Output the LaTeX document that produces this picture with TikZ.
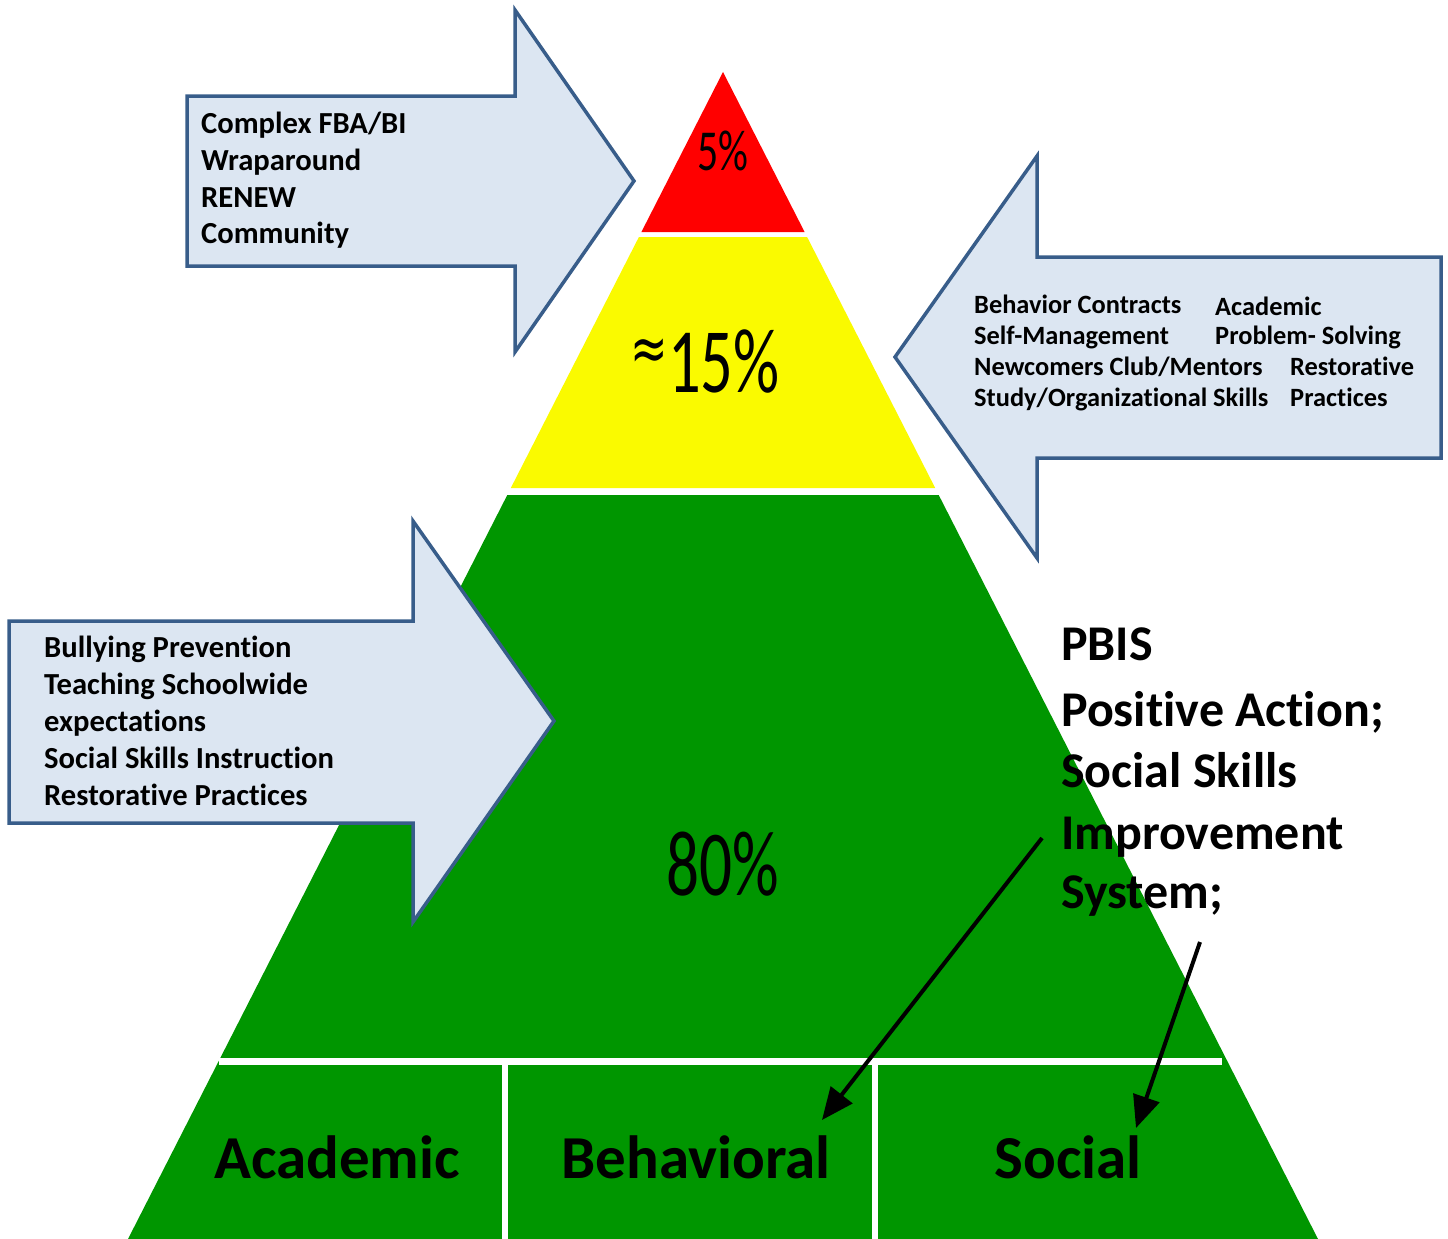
\documentclass[tikz,border=0pt]{standalone}
\usepackage{fontspec}
\setmainfont{Carlito}[Ligatures={NoCommon}]
\newfontfamily\symfont{DejaVu Sans}
\usepackage{graphicx}
\usetikzlibrary{arrows.meta}
\definecolor{tipred}{RGB}{255,0,0}
\definecolor{midyellow}{RGB}{250,250,0}
\definecolor{basegreen}{RGB}{0,150,0}
\definecolor{boxfill}{RGB}{220,230,242}
\definecolor{boxline}{RGB}{56,93,138}
\tikzset{
    blockarrow/.style={draw=boxline, fill=boxfill, line width=3.5pt},
    listtext/.style={font=\bfseries\fontsize{30.6}{37}\selectfont, anchor=base west, inner sep=0pt},
    listtextsm/.style={font=\bfseries\fontsize{26.4}{31}\selectfont, anchor=base west, inner sep=0pt},
    pbistext/.style={font=\bfseries\fontsize{50}{62}\selectfont, anchor=base west, inner sep=0pt},
    areatext/.style={font=\bfseries\fontsize{61}{61}\selectfont, anchor=base, inner sep=0pt},
    percent/.style={anchor=base, inner sep=0pt},
    pointer/.style={line width=4pt, -{Triangle[length=32pt,width=27pt]}},
}

\begin{document}
\begin{tikzpicture}[x=1pt, y=-1pt]
    \useasboundingbox (0,0) rectangle (1448,1239);
    % pyramid
    \fill[tipred] (723,72) -- (804.6,232) -- (641.4,232) -- cycle;
    \fill[midyellow] (638.9,237) -- (807.1,237) -- (935.2,488) -- (510.8,488) -- cycle;
    \fill[basegreen] (507.3,495) -- (938.7,495) -- (1318,1239) -- (128,1239) -- cycle;
    \draw[white, line width=7pt] (219,1061) -- (1222,1061);
    \draw[white, line width=6pt] (505,1061) -- (505,1239) (875,1061) -- (875,1239);
    \node[percent] (tier3) at (723,170) {\scalebox{0.72}[1]{\fontsize{58}{58}\selectfont 5\%}};
    \node[percent] (tier2) at (705,392) {\scalebox{0.7}[1]{\raisebox{22pt}{\symfont\fontsize{64}{64}\selectfont ≈}\fontsize{92}{92}\selectfont 15\%}};
    \node[percent] (tier1) at (723,895) {\scalebox{0.7}[1]{\fontsize{93}{93}\selectfont 80\%}};
    \node[areatext] (academic) at (337,1178) {Academic};
    \node[areatext] (behavioral) at (696,1178) {Behavioral};
    \node[areatext] (social) at (1068,1178) {Social};

    % block arrows
    \draw[blockarrow] (187,96) -- (515,96) -- (515,10) -- (634,181) -- (515,352) -- (515,266) -- (187,266) -- cycle;
    \draw[blockarrow] (1441,257) -- (1037,257) -- (1037,156) -- (895,357) -- (1037,558) -- (1037,458) -- (1441,458) -- cycle;
    \draw[blockarrow] (9,621) -- (413,621) -- (413,521) -- (554,721) -- (413,922) -- (413,823) -- (9,823) -- cycle;

    \node[listtext] (fba) at (201,133) {Complex FBA/BI};
    \node[listtext] (wrap) at (201,170) {Wraparound};
    \node[listtext] (renew) at (201,207) {RENEW};
    \node[listtext] (community) at (201,243) {Community};

    \node[listtextsm] (contracts) at (974,313) {Behavior Contracts};
    \node[listtextsm] (selfman) at (974,344) {Self-Management};
    \node[listtextsm] (newcomers) at (974,375) {Newcomers Club/Mentors};
    \node[listtextsm] (study) at (974,406) {Study/Organizational Skills};
    \node[listtextsm] (acad) at (1215,315) {Academic};
    \node[listtextsm] (problem) at (1215,344) {Problem- Solving};
    \node[listtextsm] (restor) at (1290,375) {Restorative};
    \node[listtextsm] (practices) at (1290,406) {Practices};

    \node[listtext] (bullying) at (44,657) {Bullying Prevention};
    \node[listtext] (teaching) at (44,694) {Teaching Schoolwide};
    \node[listtext] (expect) at (44,731) {expectations};
    \node[listtext] (skills) at (44,768) {Social Skills Instruction};
    \node[listtext] (restpract) at (44,805) {Restorative Practices};

    % programs
    \node[pbistext] (pbis) at (1061,660) {PBIS};
    \node[pbistext] (posact) at (1061,726) {Positive Action;};
    \node[pbistext] (ssis1) at (1061,787) {Social Skills};
    \node[pbistext] (ssis2) at (1061,849) {Improvement};
    \node[pbistext] (ssis3) at (1061,908) {System;};

    \coordinate (fromssis) at (1042,838);
    \coordinate (intobehav) at (822,1120);
    \coordinate (fromsys) at (1200,942);
    \coordinate (intosocial) at (1136,1128);
    \draw[pointer] (fromssis) -- (intobehav);
    \draw[pointer] (fromsys) -- (intosocial);
\end{tikzpicture}
\end{document}
